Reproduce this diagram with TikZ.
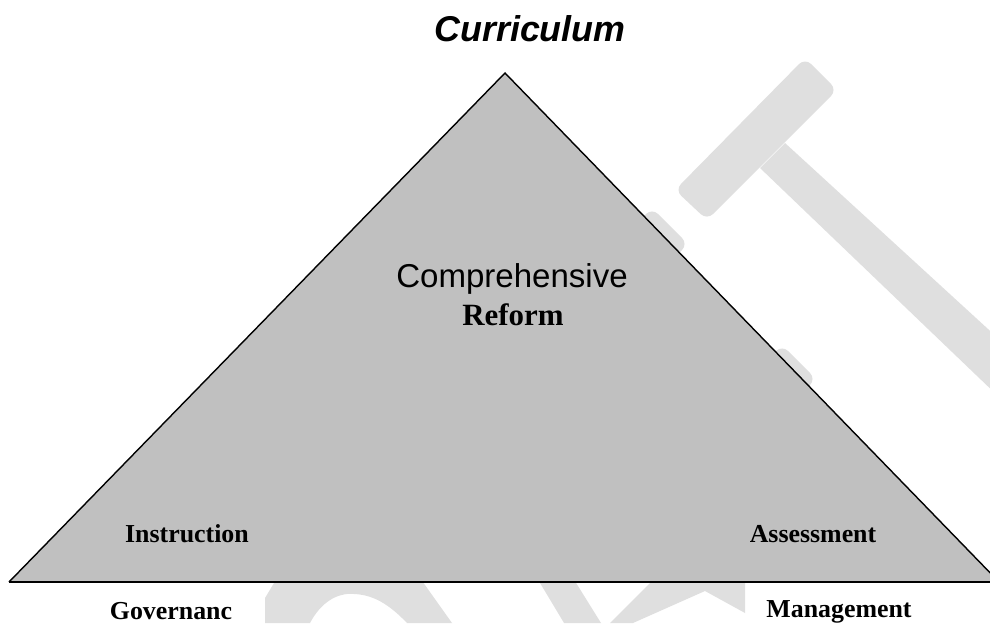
\documentclass[tikz,border=0pt]{standalone}
\usepackage{fontspec}
\setmainfont{Liberation Serif}
\newfontfamily\arialfont{Liberation Sans}
\definecolor{wedge}{RGB}{192,192,192}
\definecolor{wmark}{RGB}{223,223,223}

\begin{document}
\begin{tikzpicture}[x=0.025cm, y=-0.025cm,
    corner/.style={font=\bfseries\fontsize{18.4}{20}\selectfont, anchor=base, inner sep=0pt},
    ghost/.style={fill=wmark, draw=none, rounded corners=6}]
      \useasboundingbox (0,0) rectangle (990,623);
      \clip (0,0) rectangle (990,623);
      % faint watermark behind the triangle
      \fill[ghost] (805,58) -- (837,90) -- (707,220) -- (675,190) -- cycle;
      \fill[wmark] (760,168) -- (785,143) -- (1000,340) -- (1000,398) -- cycle;
      \fill[ghost] (652,208) -- (688,244) -- (638,294) -- (602,258) -- cycle;
      \fill[ghost] (782,345) -- (816,379) -- (766,429) -- (732,395) -- cycle;
      \fill[wmark] (265,623) -- (265,598) -- (277,578) -- (420,578) -- (452,623) -- (407,623)
        .. controls (385,600) and (368,593) .. (347,594)
        .. controls (330,596) and (318,608) .. (310,623) -- cycle;
      \fill[wmark] (537,578) -- (573,578) -- (601,623) -- (564,623) -- cycle;
      \fill[wmark] (610,623) -- (655,578) -- (745,578) -- (745,613) -- (705,591) -- (633,623) -- cycle;
      % the triangle
      \coordinate (apex) at (505,73);
      \coordinate (lcorner) at (9,582);
      \coordinate (rcorner) at (999,582);
      \fill[wedge] (apex) -- (lcorner) -- (rcorner) -- cycle;
      \draw[line width=1pt, line join=miter] (lcorner) -- (apex) -- (rcorner);
      \draw[line width=1.5pt] (lcorner) -- (rcorner);
      \draw
        (530,42) node[anchor=base, inner sep=0pt, font=\arialfont\bfseries\itshape\fontsize{25.5}{28}\selectfont] (curr){Curriculum}
        (512,287) node[anchor=base, inner sep=0pt, font=\arialfont\fontsize{23.5}{26}\selectfont] (comp){Comprehensive}
        (513,325) node[corner, font=\bfseries\fontsize{22}{24}\selectfont] (reform){Reform}
        (187,542) node[corner] (instr){Instruction}
        (813,542) node[corner] (assess){Assessment}
        (171,619) node[corner] (gov){Governanc}
        (839,617) node[corner] (mgmt){Management};
\end{tikzpicture}
\end{document}
